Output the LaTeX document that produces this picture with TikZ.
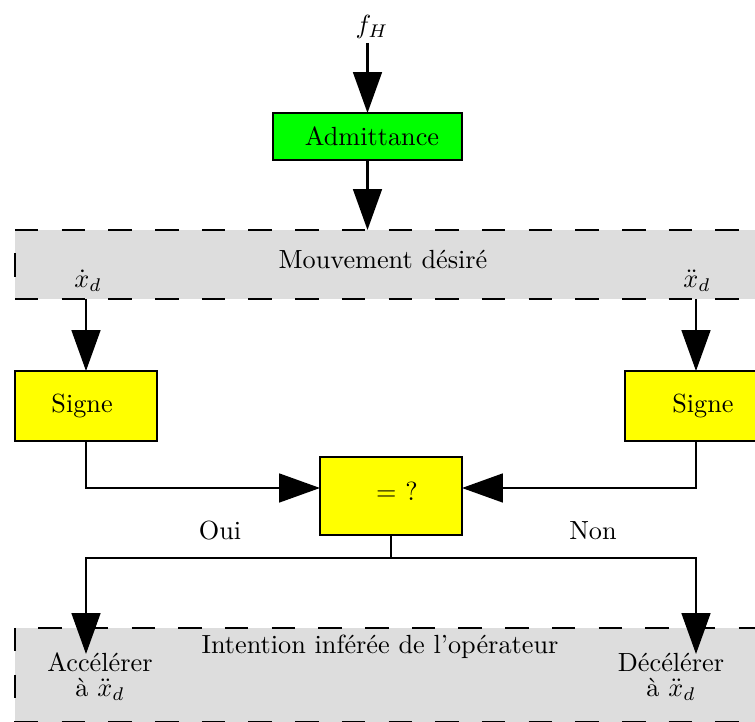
\documentclass[tikz,border=0pt]{standalone}
\usepackage{fontspec}
\usetikzlibrary{arrows.meta}
\definecolor{bandgray}{RGB}{221,221,221}
\definecolor{boxgreen}{RGB}{0,255,0}
\definecolor{boxyellow}{RGB}{255,255,0}
\newcommand\pxu{0.381pt}
\begin{document}
\begin{tikzpicture}[x=0.381pt,y=-0.381pt,
  every node/.style={outer sep=0pt},
  box/.style={draw,line width=0.8pt,inner sep=0pt},
  band/.style={fill=bandgray,inner sep=0pt,minimum width=800*\pxu,anchor=north west},
  bdash/.style={line width=0.85pt,dash pattern=on 8.95pt off 8.84pt},
  conn/.style={line width=0.8pt},
  arr/.style={conn,-{Triangle[length=15.6pt,width=11pt]}},
  ]
\useasboundingbox (0,0) rectangle (755,722);
\clip (0,0) rectangle (755,722);

% bands
\node[band,minimum height=69*\pxu] (top) at (15,230) {};
\node[band,minimum height=94*\pxu] (bot) at (15,628) {};
\draw[bdash] (top.north west) -- (top.north east);
\draw[bdash] (top.south west) -- (top.south east);
\draw[bdash,dash phase=8.95pt] (top.north west) -- (top.south west);
\draw[bdash,dash phase=8.95pt] (bot.north west) -- (bot.north east);
\draw[bdash] (bot.north west) -- (bot.south west);
\draw[bdash] (bot.south west) -- (bot.south east);

% band texts
\node (mvt) at (383,259) {Mouvement désiré};
\node (xd) at (88,281) {$\dot x_d$};
\node (xdd) at (697,281) {$\ddot x_d$};
\node (int) at (380,647) {Intention inférée de l'opérateur};
\node[align=center] (acc) at (100,677) {Accélérer\\[-2.5pt]à $\ddot x_d$};
\node[align=center] (dec) at (671,677) {Décélérer\\[-2.5pt]à $\ddot x_d$};

% boxes
\node[box,fill=boxgreen,minimum width=189*\pxu,minimum height=47*\pxu] (adm) at (367.5,136.5) {\hspace*{3.4pt}Admittance};
\node[box,fill=boxyellow,minimum width=142*\pxu,minimum height=70*\pxu] (sl) at (86,406) {Signe\hspace*{3pt}};
\node[box,fill=boxyellow,minimum width=142*\pxu,minimum height=70*\pxu] (sr) at (696,406) {\hspace*{5.3pt}Signe};
\node[box,fill=boxyellow,minimum width=142*\pxu,minimum height=78*\pxu] (eq) at (391,496) {};
\node (eqt) at (397,491) {= ?};

% labels
\node (fh) at (372,27) {$f_H$};
\node (oui) at (220,531) {Oui};
\node (non) at (593,531) {Non};

% connectors
\coordinate (fin) at (367.5,43);
\draw[arr] (fin) -- (adm.north);
\draw[arr] (adm.south) -- (adm.south |- top.north);
\draw[arr] (sl.north |- top.south) -- (sl.north);
\draw[arr] (sr.north |- top.south) -- (sr.north);
\draw[arr] (sl.south) |- ([yshift=3.05pt]eq.west);
\draw[arr] (sr.south) |- ([yshift=3.05pt]eq.east);
\coordinate (jn) at (391,558);
\coordinate (accin) at (86,654);
\coordinate (decin) at (696,654);
\draw[conn] (eq.south) -- (jn);
\draw[arr] (jn) -| (accin);
\draw[arr] (jn) -| (decin);
\end{tikzpicture}
\end{document}
